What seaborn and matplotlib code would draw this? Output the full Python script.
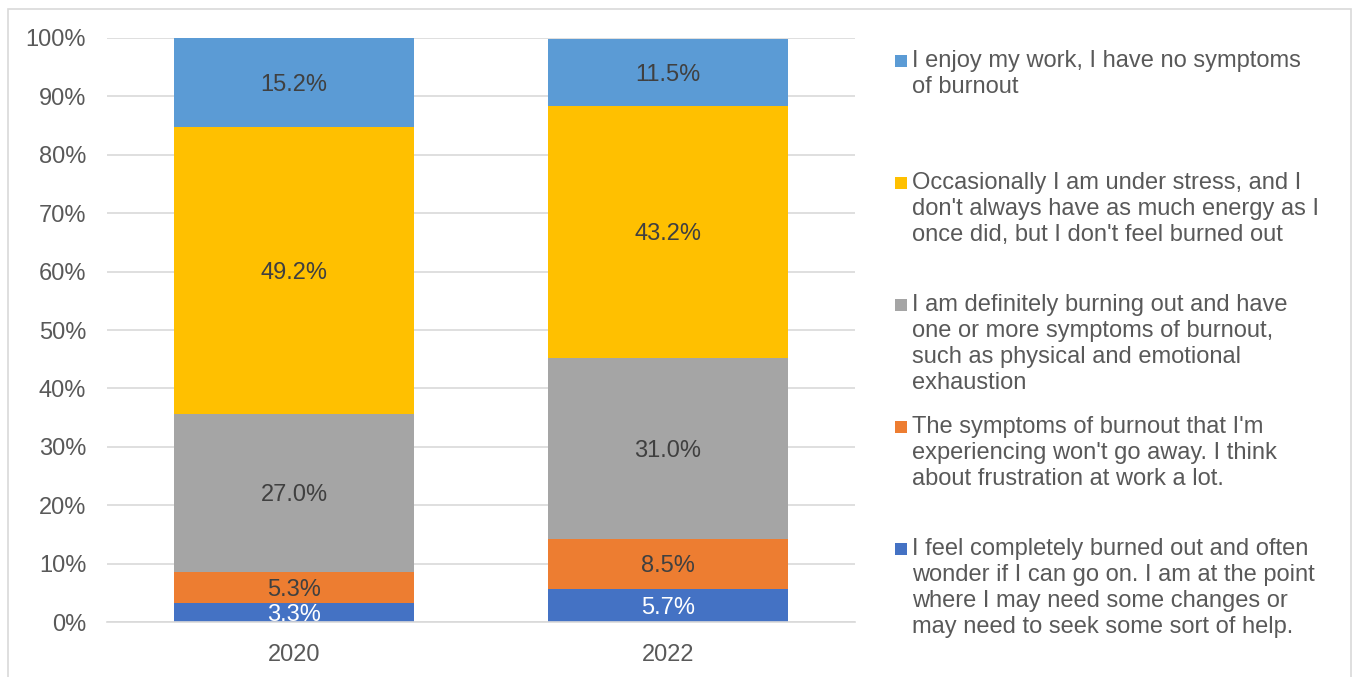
import seaborn as sns
import pandas as pd
import matplotlib.pyplot as plt
from matplotlib.patches import Rectangle
from matplotlib.ticker import PercentFormatter

# 데이터
years = ['2020', '2022']
feel_burned_out = [3.3, 5.7]
wont_go_away = [5.3, 8.5]
burning_out = [27.0, 31.0]
under_stress = [49.2, 43.2]
enjoy_work = [15.2, 11.5]

legend_labels = [
    "I enjoy my work, I have no symptoms\nof burnout",
    "Occasionally I am under stress, and I\ndon't always have as much energy as I\nonce did, but I don't feel burned out",
    "I am definitely burning out and have\none or more symptoms of burnout,\nsuch as physical and emotional\nexhaustion",
    "The symptoms of burnout that I'm\nexperiencing won't go away. I think\nabout frustration at work a lot.",
    "I feel completely burned out and often\nwonder if I can go on. I am at the point\nwhere I may need some changes or\nmay need to seek some sort of help.",
]

# 아래에서 위로 쌓는 순서
series = [feel_burned_out, wont_go_away, burning_out, under_stress, enjoy_work]
colors = ['#4472C4', '#ED7D31', '#A5A5A5', '#FFC000', '#5B9BD5']
label_colors = ['white', '#404040', '#404040', '#404040', '#404040']

sns.set_theme(style='white')
plt.rcParams['font.family'] = ['Liberation Sans', 'DejaVu Sans']
FS = 17

fig = plt.figure(figsize=(13.53, 6.77), dpi=100)
ax = fig.add_axes([0.0791, 0.0812, 0.5529, 0.8627])

# 누적 합계 계산
df = pd.DataFrame({'year': years})
tops = []
running = [0.0, 0.0]
for s in series:
    running = [r + v for r, v in zip(running, s)]
    tops.append(list(running))

# 위 시리즈부터 그려서 아래 시리즈가 덮도록
for i in reversed(range(len(series))):
    df['top'] = tops[i]
    sns.barplot(data=df, x='year', y='top', color=colors[i], width=0.64,
                saturation=1, linewidth=0, ax=ax, zorder=2)

# 데이터 라벨
for i, s in enumerate(series):
    for j, v in enumerate(s):
        ax.text(j, tops[i][j] - v / 2, f'{v:.1f}%', ha='center',
                va='center_baseline', fontsize=FS, color=label_colors[i], zorder=3)

ax.set_ylim(0, 100)
ax.set_xlim(-0.5, 1.5)
ax.set_yticks(range(0, 101, 10))
ax.yaxis.set_major_formatter(PercentFormatter(decimals=0))
ax.grid(axis='y', color='#D9D9D9', linewidth=1.2, zorder=0)
ax.set_axisbelow(True)
ax.set_xlabel('')
ax.set_ylabel('')
for side in ['top', 'right', 'left']:
    ax.spines[side].set_visible(False)
ax.spines['bottom'].set_color('#D9D9D9')
ax.spines['bottom'].set_linewidth(1.2)
ax.tick_params(axis='both', length=0, labelsize=FS, labelcolor='#595959')
ax.tick_params(axis='y', pad=15)
ax.tick_params(axis='x', pad=16)

# 범례 (수동 배치)
W, H = 1353, 677
for k, lab in enumerate(legend_labels):
    idx = len(series) - 1 - k
    y_px = 61 + k * 122
    fig.patches.append(Rectangle((895 / W, 1 - (y_px + 6) / H), 12 / W, 12 / H,
                                 transform=fig.transFigure, facecolor=colors[idx],
                                 edgecolor='none'))
    fig.text(912 / W, 1 - (y_px - 11) / H, lab, ha='left', va='top',
             fontsize=FS, color='#595959', linespacing=1.24)

# 테두리
fig.patches.append(Rectangle((8 / W, -0.05), 1343 / W, 1 - 9 / H + 0.05,
                             transform=fig.transFigure, facecolor='none',
                             edgecolor='#D9D9D9', linewidth=1.2))

fig.savefig('out.png', dpi=100)
